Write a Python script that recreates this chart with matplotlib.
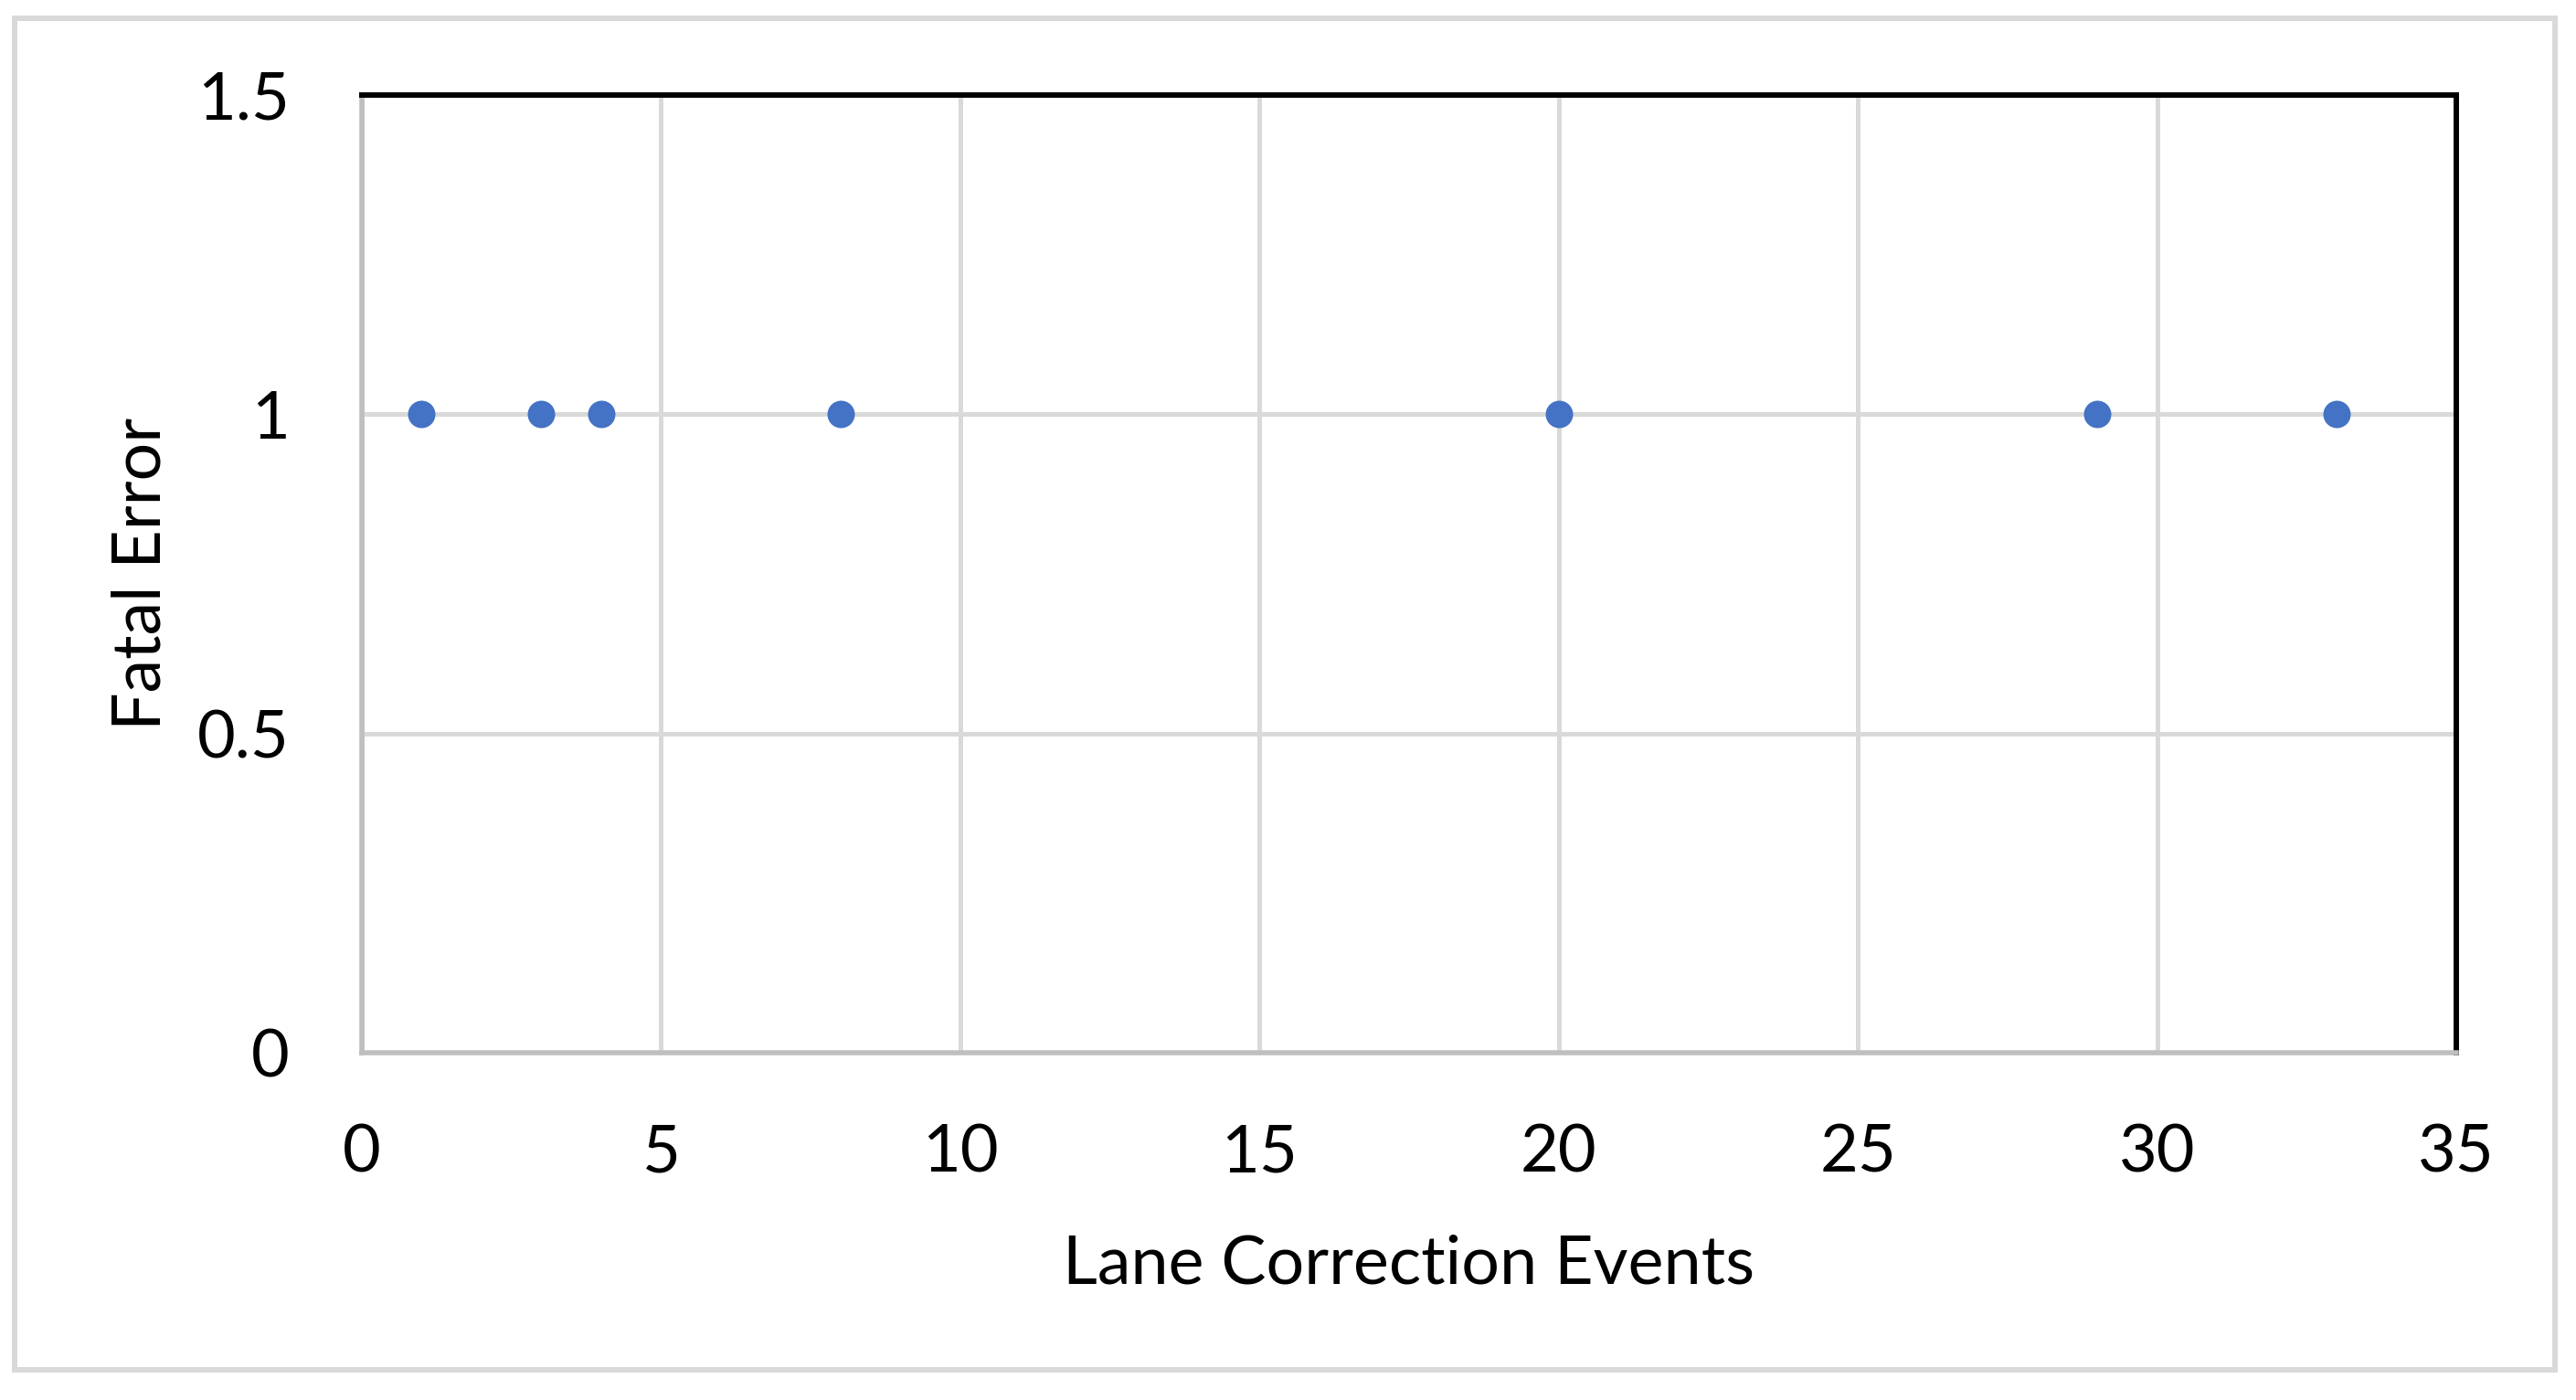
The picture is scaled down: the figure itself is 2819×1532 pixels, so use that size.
import matplotlib
matplotlib.use("Agg")
import matplotlib.pyplot as plt
from matplotlib.patches import Rectangle

# Datos del gráfico
lane_events = [1, 3, 4, 8, 20, 29, 33]
fatal_error = [1, 1, 1, 1, 1, 1, 1]
x_ticks = [0, 5, 10, 15, 20, 25, 30, 35]
y_ticks = [0, 0.5, 1, 1.5]
y_labels = ["0", "0.5", "1", "1.5"]

plt.rcParams['font.family'] = ['Lato', 'DejaVu Sans']

W, H = 2819, 1532
fig = plt.figure(figsize=(W / 100, H / 100), dpi=100)

# Borde exterior gris claro
fig.patches.append(Rectangle((16 / W, 1 - 1499 / H), (2796 - 16) / W, (1499 - 20) / H,
                             transform=fig.transFigure, fill=False,
                             edgecolor='#d9d9d9', linewidth=4.3))

ax = fig.add_axes([396 / W, 1 - 1152 / H, (2688 - 396) / W, (1152 - 104) / H])

ax.plot(lane_events, fatal_error, 'o', color='#4472C4', markersize=21.6,
        markeredgewidth=0, zorder=3, clip_on=False)

ax.set_xlim(0, 35)
ax.set_ylim(0, 1.5)
ax.set_xticks(x_ticks)
ax.set_yticks(y_ticks)
ax.set_yticklabels(y_labels)

ax.grid(True, color='#d9d9d9', linewidth=3.6)
ax.set_axisbelow(True)

for side in ['top', 'right']:
    ax.spines[side].set_color('black')
    ax.spines[side].set_linewidth(4.3)
for side in ['left', 'bottom']:
    ax.spines[side].set_color('#bfbfbf')
    ax.spines[side].set_linewidth(4.0)

ax.tick_params(axis='both', length=0, labelsize=52, colors='black')
ax.tick_params(axis='x', pad=56)
ax.tick_params(axis='y', pad=57)

ax.set_xlabel('Lane Correction Events', fontsize=53, labelpad=40)
ax.set_ylabel('Fatal Error', fontsize=53, labelpad=20)

fig.savefig('out.png', dpi=100)
